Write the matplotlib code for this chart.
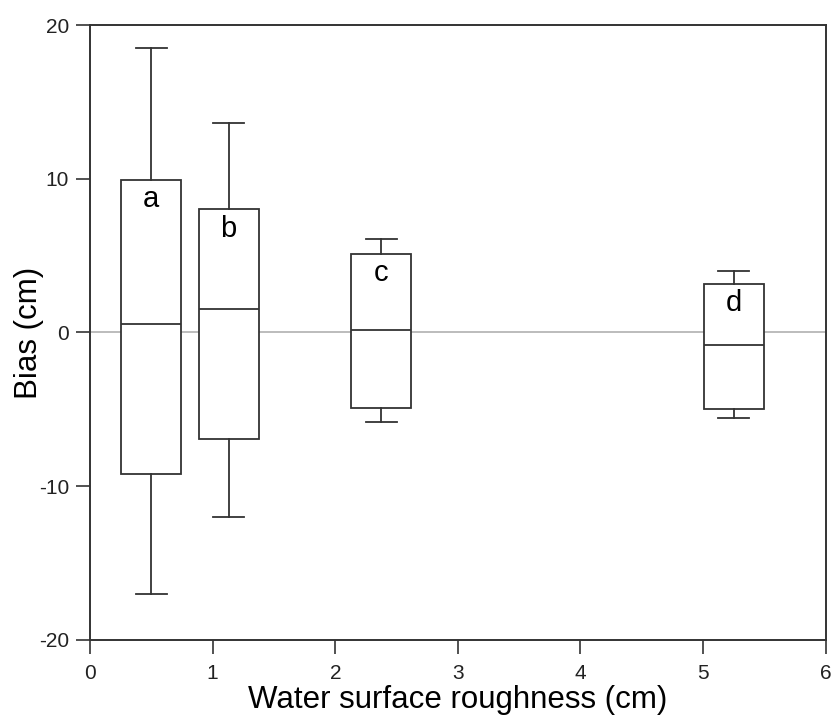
import matplotlib
matplotlib.use("Agg")
import matplotlib.pyplot as plt

plt.rcParams['font.family'] = ['Liberation Sans', 'DejaVu Sans']
plt.rcParams['axes.unicode_minus'] = False

# Data
positions = [0.5, 1.13, 2.375, 5.25]
labels = ['a', 'b', 'c', 'd']
whislo = [-17.0, -12.0, -5.85, -5.55]
q1 = [-9.2, -6.95, -4.9, -5.0]
med = [0.55, 1.55, 0.15, -0.8]
q3 = [9.9, 8.0, 5.1, 3.15]
whishi = [18.5, 13.6, 6.1, 4.0]

xticks = [0, 1, 2, 3, 4, 5, 6]
yticks = [-20, -10, 0, 10, 20]

line_color = '#333333'

fig = plt.figure(figsize=(8.34, 7.15), dpi=100)
ax = fig.add_axes([0.108, 0.105, 0.882, 0.86])

ax.axhline(0, color='#b0b0b0', lw=1.2, zorder=1)

stats = []
for i in range(len(positions)):
    stats.append(dict(whislo=whislo[i], q1=q1[i], med=med[i], q3=q3[i],
                      whishi=whishi[i], label=labels[i], fliers=[]))

ax.bxp(stats, positions=positions, widths=0.49, capwidths=0.25,
       patch_artist=True, showfliers=False, manage_ticks=False,
       boxprops=dict(facecolor='white', edgecolor=line_color, linewidth=1.3),
       medianprops=dict(color=line_color, linewidth=1.3),
       whiskerprops=dict(color=line_color, linewidth=1.3),
       capprops=dict(color=line_color, linewidth=1.3),
       zorder=2)

for p, t, lab in zip(positions, q3, labels):
    ax.annotate(lab, xy=(p, t), xytext=(0, -19.5), textcoords='offset points',
                ha='center', va='baseline', fontsize=21, color='black', zorder=3)

ax.set_xlim(0, 6)
ax.set_ylim(-20, 20)
ax.set_xticks(xticks)
ax.set_yticks(yticks)
ax.tick_params(direction='out', length=10, width=1.2, color=line_color,
               labelsize=15, labelcolor='#222222')
ax.tick_params(axis='x', pad=7)
ax.tick_params(axis='y', pad=5)
for s in ax.spines.values():
    s.set_color(line_color)
    s.set_linewidth(1.4)

ax.set_xlabel('Water surface roughness (cm)', fontsize=22.5, labelpad=1.5)
ax.set_ylabel('Bias (cm)', fontsize=22.5)
ax.yaxis.set_label_coords(-0.063, 0.5)

fig.savefig('out.png', dpi=100)
